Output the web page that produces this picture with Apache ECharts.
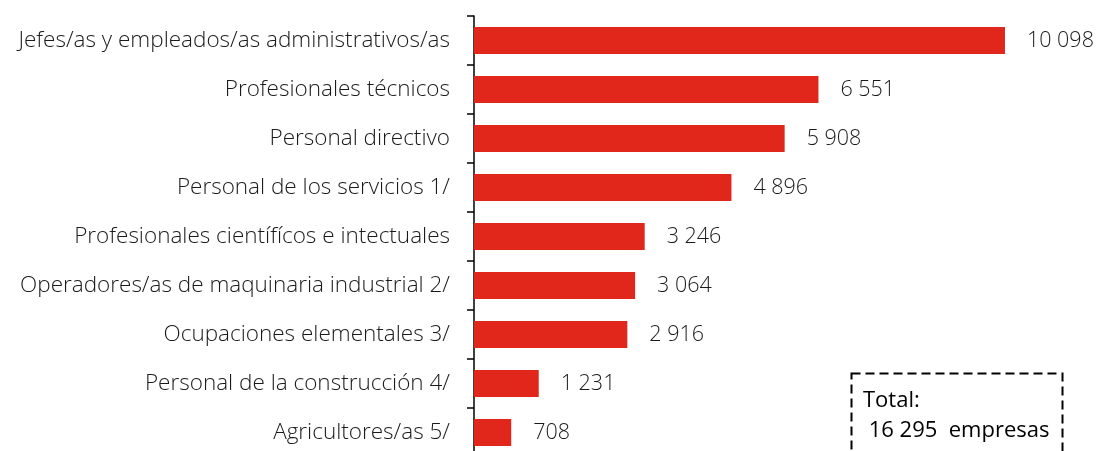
<!DOCTYPE html>
<html>
<head>
<meta charset="utf-8">
<script src="https://cdn.jsdelivr.net/npm/echarts@6/dist/echarts.min.js"></script>
<style>
  html, body { margin: 0; padding: 0; background: #fff; }
  #chart { width: 1096px; height: 451px; }
</style>
</head>
<body>
<div id="chart"></div>
<script>
// categorias de arriba hacia abajo
var ocupaciones = [
  'Jefes/as y empleados/as administrativos/as',
  'Profesionales técnicos',
  'Personal directivo',
  'Personal de los servicios 1/',
  'Profesionales científícos e intectuales',
  'Operadores/as de maquinaria industrial 2/',
  'Ocupaciones elementales 3/',
  'Personal de la construcción 4/',
  'Agricultores/as 5/'
];
var empresas = [10098, 6551, 5908, 4896, 3246, 3064, 2916, 1231, 708];
var totalTexto = ['Total:', ' 16 295  empresas'];

function fmt(v) {
  return String(v).replace(/\B(?=(\d{3})+(?!\d))/g, ' ');
}

var myChart = echarts.init(document.getElementById('chart'));
var option = {
  animation: false,
  grid: { left: 474, top: 16, width: 578.4, height: 441, outerBoundsMode: 'none' },
  xAxis: {
    type: 'value',
    min: 0,
    max: 11000,
    show: false
  },
  yAxis: {
    type: 'category',
    inverse: true,
    data: ocupaciones,
    axisLine: { show: true, lineStyle: { color: '#000', width: 1.5 } },
    axisTick: { show: true, length: 7, lineStyle: { color: '#000', width: 1.5 } },
    axisLabel: {
      margin: 24,
      color: '#1a1a1a',
      fontFamily: 'Open Sans',
      fontWeight: 300,
      fontSize: 22.5
    },
    splitLine: { show: false }
  },
  series: [{
    type: 'bar',
    data: empresas,
    barWidth: 27,
    itemStyle: { color: '#E1261C' },
    label: {
      show: true,
      position: 'right',
      distance: 22,
      color: '#1a1a1a',
      fontFamily: 'Open Sans',
      fontWeight: 300,
      fontSize: 21.5,
      formatter: function (p) { return fmt(p.value); }
    }
  }],
  graphic: [
    {
      type: 'rect',
      left: 849,
      top: 371,
      shape: { width: 211, height: 100 },
      style: { fill: 'none', stroke: '#000', lineWidth: 2, lineDash: [9, 5] }
    },
    {
      type: 'text',
      left: 863,
      top: 390,
      style: { text: totalTexto[0], font: '22px "Open Sans"', fill: '#000' }
    },
    {
      type: 'text',
      left: 863,
      top: 420,
      style: { text: totalTexto[1], font: '22px "Open Sans"', fill: '#000' }
    }
  ]
};
myChart.setOption(option);
</script>
</body>
</html>
